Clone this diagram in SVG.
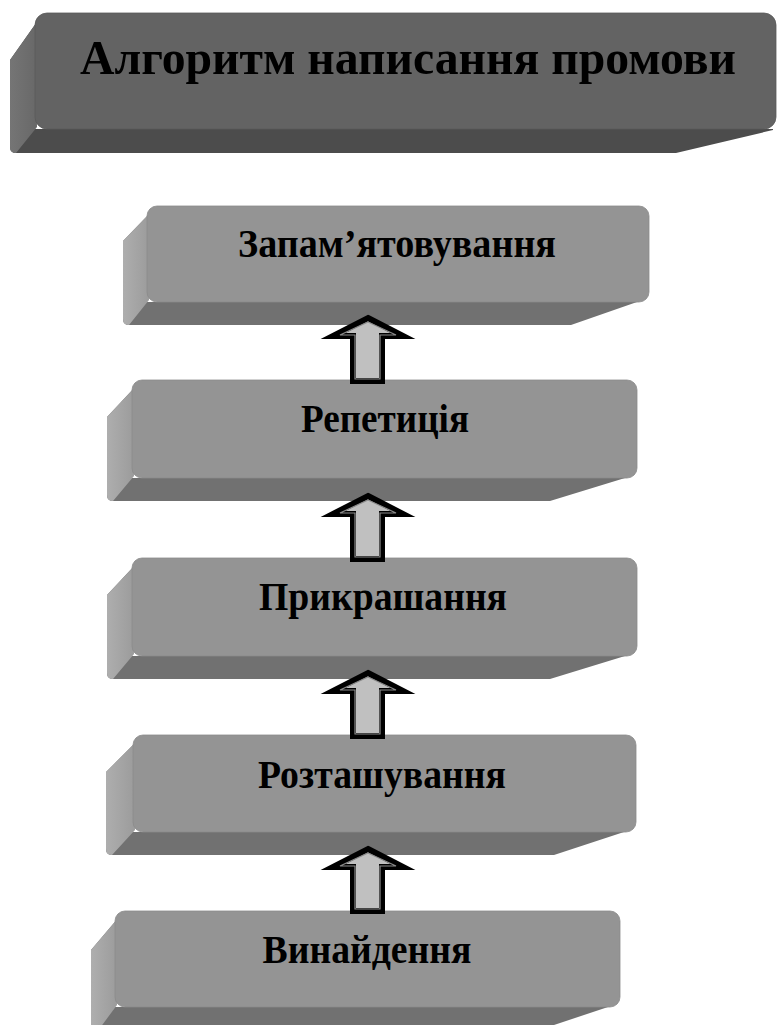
<svg xmlns="http://www.w3.org/2000/svg" width="777" height="1025" viewBox="0 0 777 1025">
<style>
.front{fill:#949494;stroke:#8a8a8a;stroke-width:0.8}
.bottom{fill:#717171}
.left{fill:url(#lg)}
.tfront{fill:#636363;stroke:#5a5a5a;stroke-width:0.8}
.tbottom{fill:#4c4c4c}
.tleft{fill:url(#tlg)}
.lbl{font-family:"Liberation Serif","Times New Roman",serif;font-weight:bold;font-size:40px;fill:#000;text-anchor:middle}
.title{font-family:"Liberation Serif","Times New Roman",serif;font-weight:bold;font-size:49px;fill:#000;text-anchor:middle}
.arrO{fill:#c0c0c0;stroke:#000;stroke-width:6;stroke-linejoin:miter;stroke-miterlimit:10}
.arrI{fill:none;stroke:#8a8a8a;stroke-width:1.2;stroke-linejoin:miter}
</style>
<defs>
<linearGradient id="lg" x1="0" y1="0" x2="1" y2="0">
<stop offset="0" stop-color="#aeaeae"/>
<stop offset="1" stop-color="#9a9a9a"/>
</linearGradient>
<linearGradient id="tlg" x1="0" y1="0" x2="1" y2="0">
<stop offset="0" stop-color="#757575"/>
<stop offset="1" stop-color="#676767"/>
</linearGradient>
</defs>

<g id="title">
<path class="tbottom" d="M39,19 L10,60 L10,147 Q10,153 16,153 L676,153 L773,130 L773,129 L35,129 Z"/>
<path class="tleft" d="M39,19 L10,60 L10,147 Q10,153 16,153 L37,127 L35,24 Z"/>
<rect class="tfront" x="35" y="13" width="741" height="116" rx="12"/>
<text class="title" x="408" y="74" textLength="656" lengthAdjust="spacingAndGlyphs">Алгоритм написання промови</text>
</g>

<g id="n1">
<path class="bottom" d="M151,212 L123,241 L123,319 Q123,325 129,325 L571,325 L637,302 L147,302 Z"/>
<path class="left" d="M151,212 L123,241 L123,319 Q123,325 129,325 L149,300 L147,218 Z"/>
<rect class="front" x="147" y="206" width="502" height="96" rx="10"/>
<text class="lbl" x="397" y="257" textLength="318" lengthAdjust="spacingAndGlyphs">Запам’ятовування</text>
</g>

<g id="n2">
<path class="bottom" d="M136,386 L107,417 L107,495 Q107,501 113,501 L550,501 L625,478 L132,478 Z"/>
<path class="left" d="M136,386 L107,417 L107,495 Q107,501 113,501 L134,476 L132,392 Z"/>
<rect class="front" x="132" y="380" width="505" height="98" rx="10"/>
<text class="lbl" x="385" y="432" textLength="168" lengthAdjust="spacingAndGlyphs">Репетиція</text>
</g>

<g id="n3">
<path class="bottom" d="M136,564 L107,595 L107,673 Q107,679 113,679 L550,679 L625,656 L132,656 Z"/>
<path class="left" d="M136,564 L107,595 L107,673 Q107,679 113,679 L134,654 L132,570 Z"/>
<rect class="front" x="132" y="558" width="505" height="98" rx="10"/>
<text class="lbl" x="383" y="610" textLength="248" lengthAdjust="spacingAndGlyphs">Прикрашання</text>
</g>

<g id="n4">
<path class="bottom" d="M137,741 L106,772 L106,849 Q106,855 112,855 L554,855 L624,832 L133,832 Z"/>
<path class="left" d="M137,741 L106,772 L106,849 Q106,855 112,855 L135,830 L133,747 Z"/>
<rect class="front" x="133" y="735" width="503" height="97" rx="10"/>
<text class="lbl" x="382" y="788" textLength="248" lengthAdjust="spacingAndGlyphs">Розташування</text>
</g>

<g id="n5">
<path class="bottom" d="M119,917 L91,950 L91,1026 Q91,1032 97,1032 L533,1032 L608,1007 L115,1007 Z"/>
<path class="left" d="M119,917 L91,950 L91,1026 Q91,1032 97,1032 L117,1005 L115,923 Z"/>
<rect class="front" x="115" y="911" width="505" height="96" rx="10"/>
<text class="lbl" x="367" y="963" textLength="209" lengthAdjust="spacingAndGlyphs">Винайдення</text>
</g>

<g id="connectors">
<path class="arrO" d="M368,318 L403,336 L382,336 L382,381 L353,381 L353,336 L333,336 Z"/>
<path class="arrI" d="M368,322 L396,335 L380,335 L380,379 L355,379 L355,335 L340,335 Z"/>
<path class="arrO" d="M368,496 L403,514 L382,514 L382,559 L353,559 L353,514 L333,514 Z"/>
<path class="arrI" d="M368,500 L396,513 L380,513 L380,557 L355,557 L355,513 L340,513 Z"/>
<path class="arrO" d="M368,673 L403,691 L382,691 L382,736 L353,736 L353,691 L333,691 Z"/>
<path class="arrI" d="M368,677 L396,690 L380,690 L380,734 L355,734 L355,690 L340,690 Z"/>
<path class="arrO" d="M368,849 L403,867 L382,867 L382,911 L353,911 L353,867 L333,867 Z"/>
<path class="arrI" d="M368,853 L396,866 L380,866 L380,909 L355,909 L355,866 L340,866 Z"/>
</g>
</svg>
